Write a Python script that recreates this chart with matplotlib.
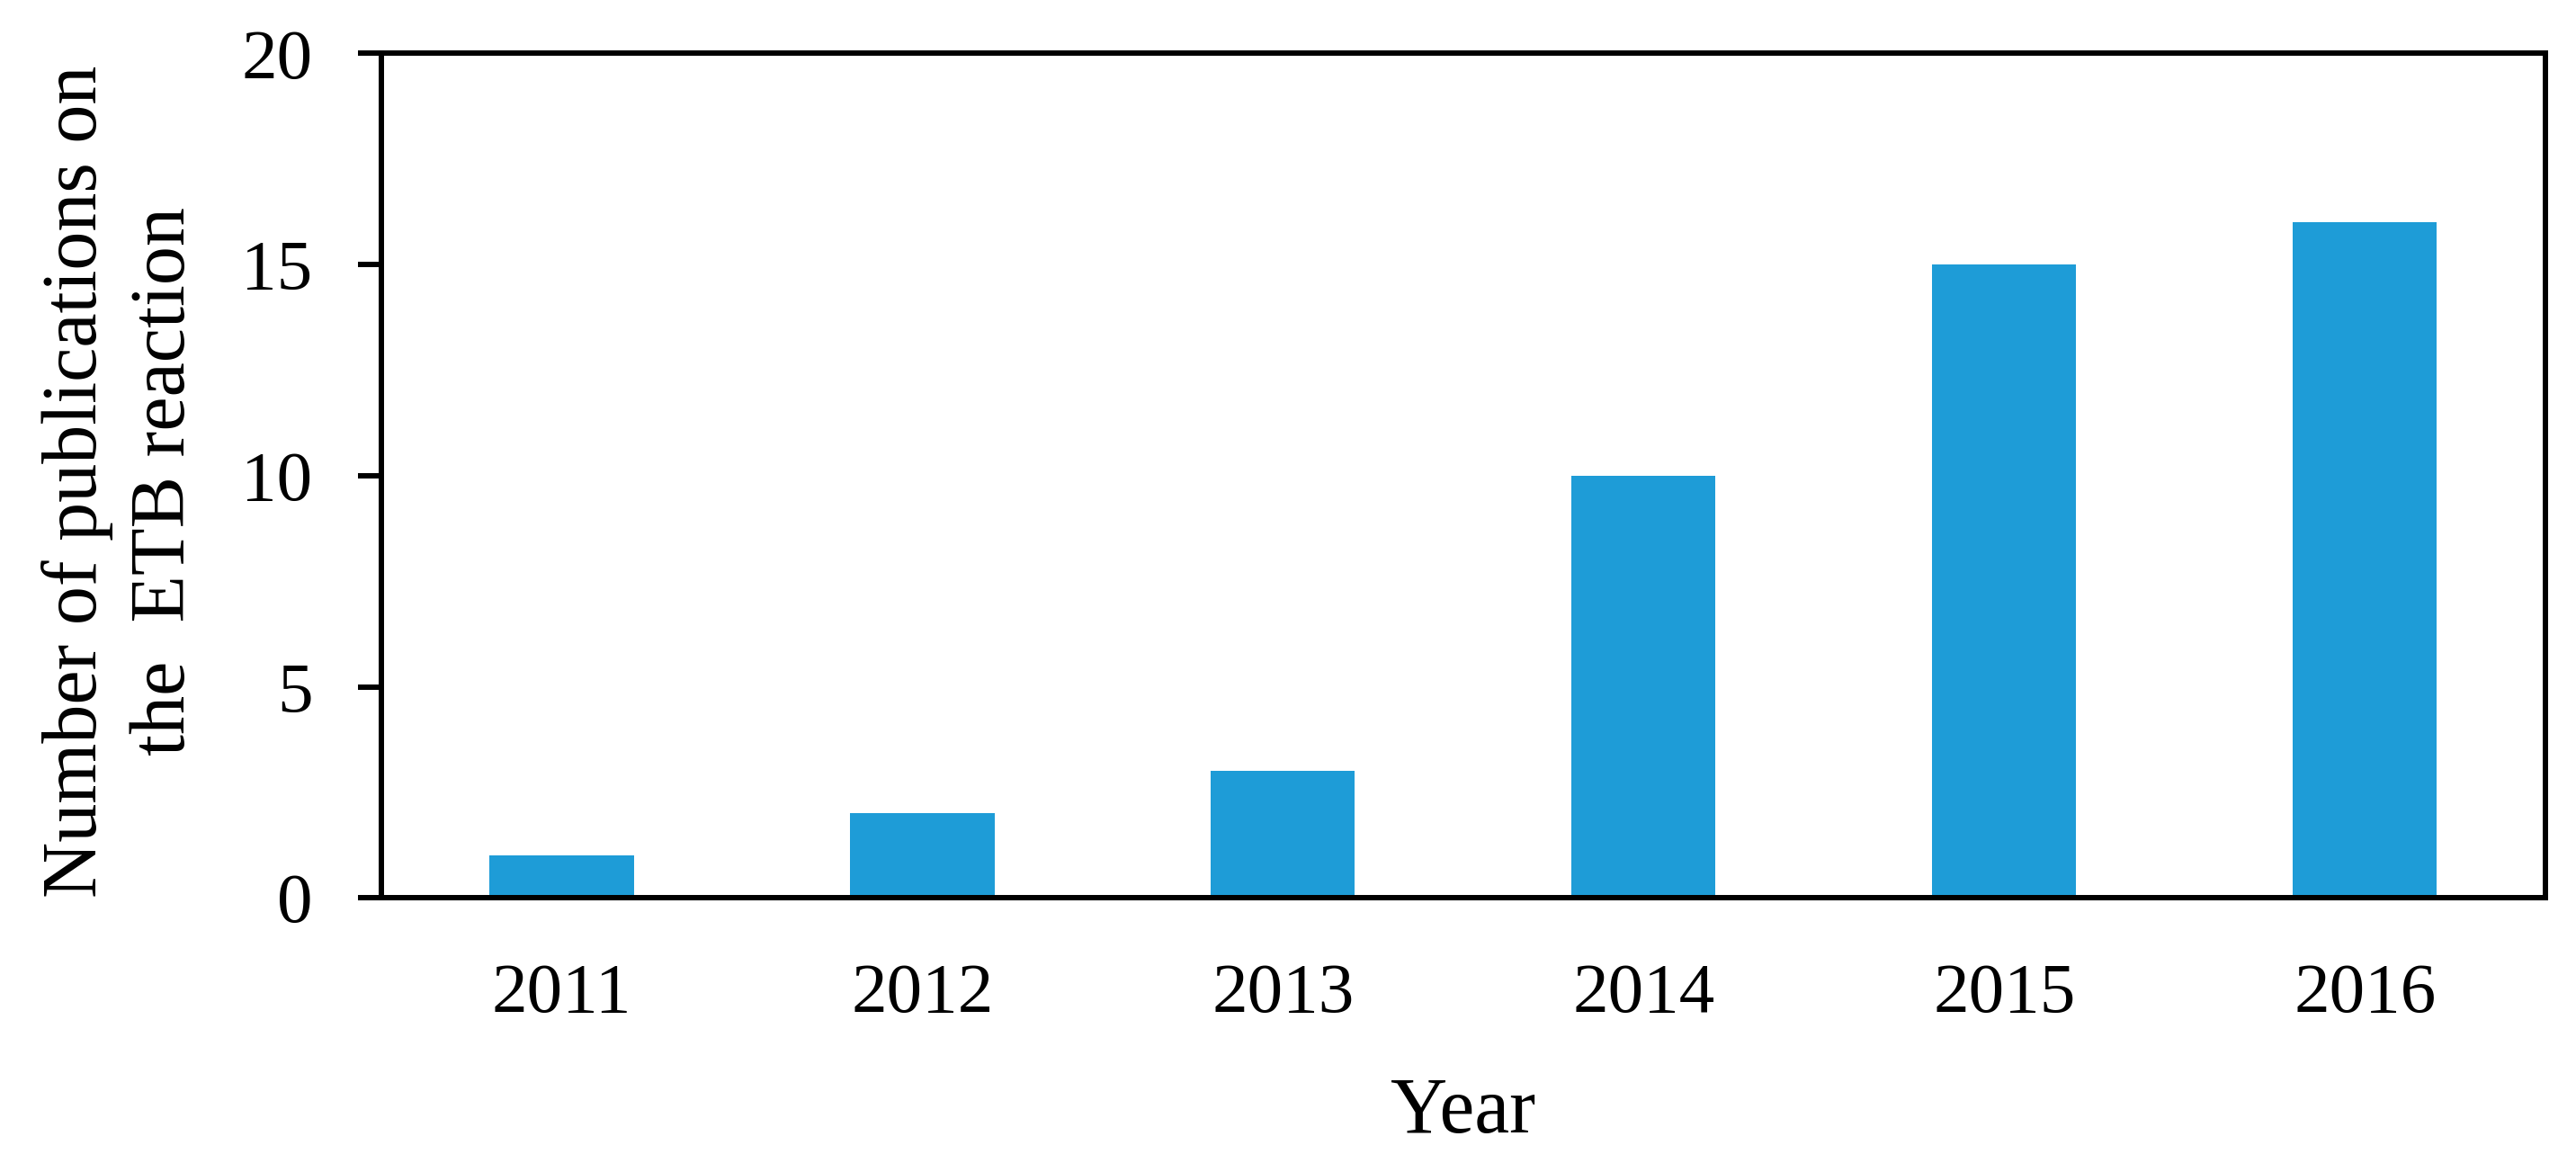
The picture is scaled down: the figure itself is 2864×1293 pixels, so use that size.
import matplotlib
matplotlib.use("Agg")
import matplotlib.pyplot as plt

years = ["2011", "2012", "2013", "2014", "2015", "2016"]
counts = [1, 2, 3, 10, 15, 16]
yticks = [0, 5, 10, 15, 20]

plt.rcParams['font.family'] = ['Liberation Serif', 'DejaVu Serif']

fig = plt.figure(figsize=(28.64, 12.93), dpi=100)
ax = fig.add_axes([0.148, 0.228, 0.840, 0.726])

x = range(len(years))
ax.bar(x, counts, width=0.4, color='#1E9CD7')

ax.set_xlim(-0.5, len(years) - 0.5)
ax.set_ylim(0, 20)
ax.set_xticks(list(x))
ax.set_xticklabels(years)
ax.set_yticks(yticks)

for s in ax.spines.values():
    s.set_linewidth(4.3)
ax.tick_params(axis='x', length=0, pad=52, labelsize=57)
ax.tick_params(axis='y', length=19, width=4.3, direction='out', pad=36, labelsize=57)

fig.text(1627 / 2864, 1 - 1237 / 1293, "Year", ha='center', va='center', fontsize=63)
fig.text(135 / 2864, 1 - 535 / 1293, "Number of publications on\nthe  ETB reaction",
         rotation=90, ha='center', va='center', multialignment='center',
         fontsize=62, linespacing=1.3)

fig.savefig("out.png", dpi=100)
